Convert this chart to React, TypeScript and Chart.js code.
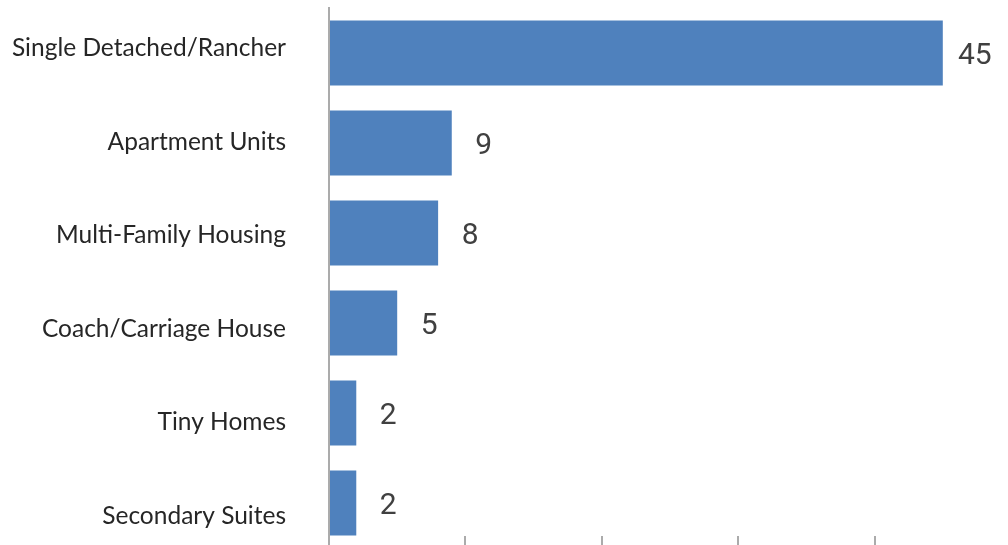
import React, { useEffect, useRef } from "react";
import { Chart, registerables } from "chart.js";

Chart.register(...registerables);

const categories = [
  "Single Detached/Rancher",
  "Apartment Units",
  "Multi-Family Housing",
  "Coach/Carriage House",
  "Tiny Homes",
  "Secondary Suites",
];
const counts = [45, 9, 8, 5, 2, 2];
const xTickValues = [0, 10, 20, 30, 40, 50];

const valueLabels = {
  id: "valueLabels",
  afterDatasetsDraw(chart: any) {
    const ctx = chart.ctx;
    const meta = chart.getDatasetMeta(0);
    ctx.save();
    ctx.font = "30px Roboto";
    ctx.fillStyle = "#404040";
    ctx.textAlign = "center";
    ctx.textBaseline = "middle";
    meta.data.forEach((bar: any, i: number) => {
      ctx.fillText(String(counts[i]), bar.x + 32, bar.y + 3);
    });
    ctx.restore();
  },
};

export default function App() {
  const ref = useRef<HTMLCanvasElement>(null);
  useEffect(() => {
    if (!ref.current) return;
    const chart = new Chart(ref.current, {
      type: "bar",
      data: {
        labels: categories,
        datasets: [
          {
            data: counts,
            backgroundColor: "#4f81bd",
            barPercentage: 0.72,
            categoryPercentage: 1,
            yAxisID: "y",
          },
        ],
      },
      options: {
        indexAxis: "y",
        animation: false,
        responsive: false,
        maintainAspectRatio: false,
        devicePixelRatio: 1,
        layout: { padding: { top: 8, left: 0, right: 0, bottom: 0 } },
        plugins: { legend: { display: false }, tooltip: { enabled: false } },
        scales: {
          x: {
            type: "linear",
            min: 0,
            max: 50,
            position: { y: 5.363 } as any,
            afterBuildTicks: (s: any) => {
              s.ticks = xTickValues.map((v) => ({ value: v }));
            },
            ticks: { display: false },
            border: { display: false },
            grid: {
              display: true,
              drawOnChartArea: false,
              drawTicks: true,
              tickLength: 12,
              color: "#ababab",
              lineWidth: 2,
            },
          },
          y: {
            type: "category",
            display: false,
            offset: true,
          },
          yl: {
            type: "linear",
            position: "left",
            reverse: true,
            offset: false,
            min: -0.433,
            max: 5.342,
            afterBuildTicks: (s: any) => {
              s.ticks = categories.map((_, i) => ({ value: i }));
              s.min = -0.433;
              s.max = 5.342;
            },
            afterFit: (s: any) => {
              s.width = 329;
              s.paddingTop = 0;
              s.paddingBottom = 0;
            },
            ticks: {
              autoSkip: false,
              padding: 43,
              color: "#262626",
              font: { family: "Lato", size: 24.5 },
              callback: (v: any) => categories[v as number],
            },
            grid: { display: false, drawTicks: false, offset: false },
            border: { display: true, color: "#ababab", width: 2 },
          },
        },
      },
      plugins: [valueLabels],
    });
    return () => chart.destroy();
  }, []);
  return (
    <div
      style={{
        position: "fixed",
        left: 0,
        top: 0,
        width: 1008,
        height: 545,
        overflow: "hidden",
        background: "#fff",
      }}
    >
      <canvas ref={ref} width={1011} height={548} style={{ display: "block" }} />
    </div>
  );
}
